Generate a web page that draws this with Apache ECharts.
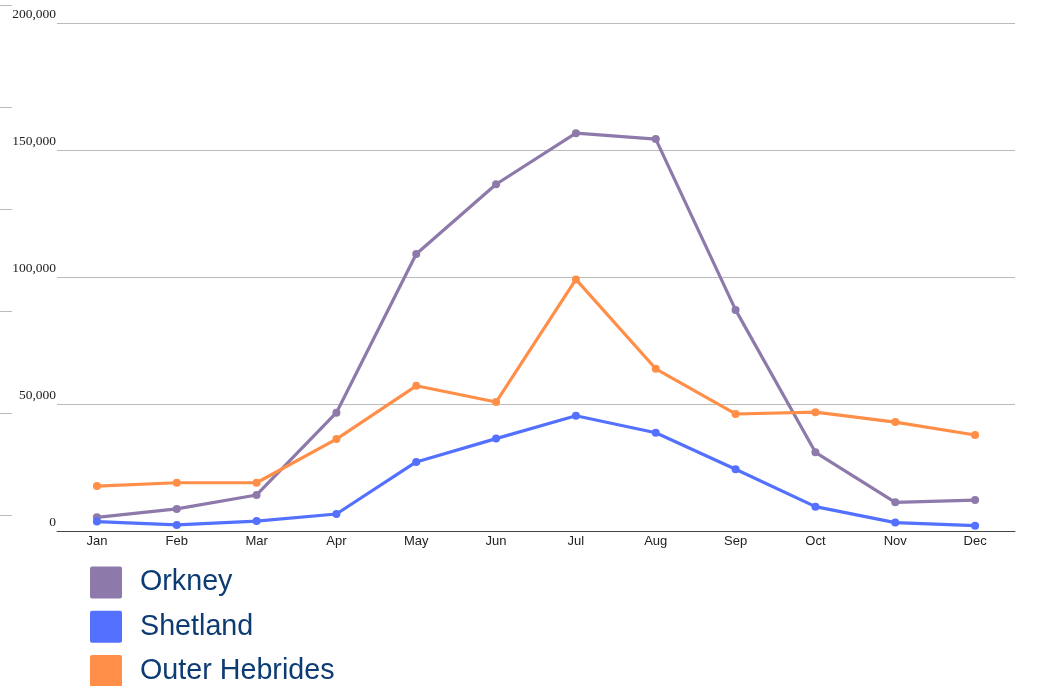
<!DOCTYPE html>
<html>
<head>
<meta charset="utf-8">
<style>
  html, body { margin: 0; padding: 0; background: #ffffff; }
  #chart { width: 1046px; height: 686px; }
</style>
<script src="https://cdn.jsdelivr.net/npm/echarts@6/dist/echarts.min.js"></script>
</head>
<body>
<div id="chart"></div>
<script>
// Monthly visitor numbers for the Scottish island groups
const months = ['Jan', 'Feb', 'Mar', 'Apr', 'May', 'Jun', 'Jul', 'Aug', 'Sep', 'Oct', 'Nov', 'Dec'];
const orkney = [5400, 8700, 14200, 46600, 109100, 136600, 156700, 154400, 87100, 31000, 11300, 12200];
const shetland = [3700, 2400, 3900, 6700, 27200, 36400, 45400, 38700, 24300, 9600, 3300, 2100];
const outerHebrides = [17700, 19000, 19000, 36200, 57200, 50800, 99100, 63900, 46100, 46800, 42900, 37800];

const seriesNames = ['Orkney', 'Shetland', 'Outer Hebrides'];
const seriesColors = ['#8d7aaa', '#5370ff', '#ff8f48'];

// square swatch with slightly softened corners
const swatchIcon = 'path://M2,0 H30 Q32,0 32,2 V30 Q32,32 30,32 H2 Q0,32 0,30 V2 Q0,0 2,0 Z';

const chart = echarts.init(document.getElementById('chart'), null, { renderer: 'canvas' });

function lineSeries(name, data, color) {
  return {
    name: name,
    type: 'line',
    data: data,
    xAxisIndex: 0,
    yAxisIndex: 0,
    symbol: 'circle',
    symbolSize: 8,
    itemStyle: { color: color },
    lineStyle: { color: color, width: 3.2 },
    emphasis: { disabled: true },
    animation: false
  };
}

chart.setOption({
  animation: false,
  color: seriesColors,
  grid: [
    { left: 57, right: 31, top: 23.3, bottom: 155, containLabel: false },
    // narrow strip of reference marks along the left edge
    { left: 0, width: 12, top: 5.5, height: 509.8, containLabel: false }
  ],
  legend: {
    orient: 'vertical',
    left: 90,
    top: 566.5,
    height: 160,
    padding: 0,
    itemWidth: 32,
    itemHeight: 32,
    itemGap: 12.3,
    icon: swatchIcon,
    selectedMode: false,
    textStyle: {
      fontFamily: 'Liberation Sans, Arial, sans-serif',
      fontSize: 28.7,
      color: '#0d3b73',
      padding: [2, 0, 0, 13]
    },
    data: seriesNames
  },
  xAxis: [
    {
      gridIndex: 0,
      type: 'category',
      data: months,
      boundaryGap: true,
      axisLine: { show: true, lineStyle: { color: '#444444', width: 1 } },
      axisTick: { show: false },
      axisLabel: {
        margin: 4,
        fontFamily: 'Liberation Sans, Arial, sans-serif',
        fontSize: 13,
        color: '#222222'
      },
      splitLine: { show: false }
    },
    { gridIndex: 1, type: 'value', show: false, min: 0, max: 1 }
  ],
  yAxis: [
    {
      gridIndex: 0,
      type: 'value',
      min: 0,
      max: 200000,
      interval: 50000,
      axisLine: { show: false },
      axisTick: { show: false },
      axisLabel: {
        margin: 1,
        fontFamily: 'Liberation Serif, Times New Roman, serif',
        fontSize: 13.5,
        color: '#222222',
        verticalAlign: 'bottom',
        lineHeight: 13,
        padding: [0, 0, 2, 0],
        formatter: function (v) { return v.toLocaleString('en-US'); }
      },
      splitLine: { show: true, lineStyle: { color: '#bbbbbb', width: 1 } }
    },
    {
      gridIndex: 1,
      type: 'value',
      min: 0,
      max: 5,
      interval: 1,
      axisLine: { show: false },
      axisTick: { show: false },
      axisLabel: { show: false },
      splitLine: { show: true, lineStyle: { color: '#bbbbbb', width: 1 } }
    }
  ],
  series: [
    lineSeries(seriesNames[0], orkney, seriesColors[0]),
    lineSeries(seriesNames[1], shetland, seriesColors[1]),
    lineSeries(seriesNames[2], outerHebrides, seriesColors[2])
  ]
});
</script>
</body>
</html>
